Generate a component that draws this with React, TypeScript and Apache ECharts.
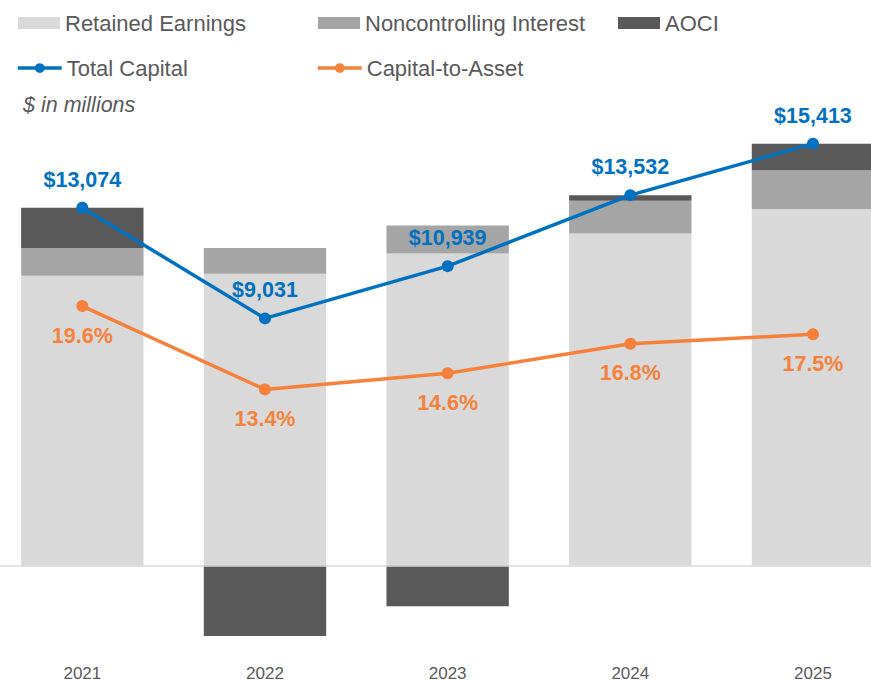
import React, { useEffect, useRef } from "react";
import * as echarts from "echarts";

const years = ["2021", "2022", "2023", "2024", "2025"];
const retainedEarnings = [10590, 10660, 11400, 12135, 13030];
const noncontrollingInterest = [1010, 940, 1020, 1190, 1410];
const aoci = [1474, -2569, -1481, 207, 973];
const totalCapital = [13074, 9031, 10939, 13532, 15413];
const capitalToAsset = [19.6, 13.4, 14.6, 16.8, 17.5];

const FONT = '"Liberation Sans", Arial, Helvetica, sans-serif';
const TEXT = "#595959";
const BLUE = "#0070C0";
const ORANGE = "#F5813A";
const OFF = 40; // inner canvas is shifted left by this many pixels

export default function App() {
  const ref = useRef<HTMLDivElement>(null);

  useEffect(() => {
    if (!ref.current) return;
    const chart = echarts.init(ref.current, undefined, { renderer: "svg" });

    const legendBase = {
      itemHeight: 12,
      padding: 0,
      selectedMode: false,
      textStyle: { fontSize: 22, color: TEXT, fontFamily: FONT },
    };

    chart.setOption({
      animation: false,
      textStyle: { fontFamily: FONT },
      title: {
        text: "$ in millions",
        left: 23 + OFF,
        top: 94,
        padding: 0,
        textStyle: {
          fontSize: 21.5,
          fontStyle: "italic",
          fontWeight: "normal",
          color: TEXT,
          fontFamily: FONT,
        },
      },
      legend: [
        { ...legendBase, data: [{ name: "Retained Earnings", icon: "rect" }], left: 18 + OFF, top: 12, itemWidth: 42 },
        { ...legendBase, data: [{ name: "Noncontrolling Interest", icon: "rect" }], left: 318 + OFF, top: 12, itemWidth: 42 },
        { ...legendBase, data: [{ name: "AOCI", icon: "rect" }], left: 618 + OFF, top: 12, itemWidth: 42 },
        { ...legendBase, data: ["Total Capital"], left: 16 + OFF, top: 57, itemWidth: 44, lineStyle: { width: 3.5 } },
        { ...legendBase, data: ["Capital-to-Asset"], left: 316 + OFF, top: 57, itemWidth: 44, lineStyle: { width: 3.5 } },
      ],
      grid: { left: OFF - 9, width: 913.3, top: 127.6, bottom: 36.9, containLabel: false },
      xAxis: {
        type: "category",
        data: years,
        axisLine: { show: false, onZero: false },
        axisTick: { show: false },
        axisLabel: { color: TEXT, fontSize: 17, margin: 20, fontFamily: FONT },
      },
      yAxis: [
        { type: "value", min: -2900, max: 16000, show: false, splitLine: { show: false } },
        { type: "value", min: -5.606, max: 32.87, show: false, splitLine: { show: false } },
      ],
      series: [
        {
          name: "Retained Earnings",
          type: "bar",
          stack: "cap",
          barWidth: "67%",
          data: retainedEarnings,
          itemStyle: { color: "#D9D9D9" },
          markLine: {
            silent: true,
            symbol: ["none", "none"],
            label: { show: false },
            lineStyle: { color: "#D9D9D9", width: 1.5, type: "solid" },
            data: [{ yAxis: 0 }],
          },
        },
        {
          name: "Noncontrolling Interest",
          type: "bar",
          stack: "cap",
          data: noncontrollingInterest,
          itemStyle: { color: "#A5A5A5" },
        },
        {
          name: "AOCI",
          type: "bar",
          stack: "cap",
          data: aoci,
          itemStyle: { color: "#595959" },
        },
        {
          name: "Total Capital",
          type: "line",
          yAxisIndex: 0,
          data: totalCapital,
          symbol: "circle",
          symbolSize: 12,
          z: 5,
          lineStyle: { color: BLUE, width: 3.5 },
          itemStyle: { color: BLUE },
          label: {
            show: true,
            position: "top",
            distance: 11,
            color: BLUE,
            fontWeight: "bold",
            fontSize: 21.5,
            fontFamily: FONT,
            formatter: (p: any) => "$" + Number(p.value).toLocaleString("en-US"),
          },
        },
        {
          name: "Capital-to-Asset",
          type: "line",
          yAxisIndex: 1,
          data: capitalToAsset,
          symbol: "circle",
          symbolSize: 12,
          z: 5,
          lineStyle: { color: ORANGE, width: 3.5 },
          itemStyle: { color: ORANGE },
          label: {
            show: true,
            position: "bottom",
            distance: 12.5,
            color: ORANGE,
            fontWeight: "bold",
            fontSize: 21.5,
            fontFamily: FONT,
            formatter: (p: any) => Number(p.value).toFixed(1) + "%",
          },
        },
      ],
    });

    return () => chart.dispose();
  }, []);

  return (
    <div
      style={{
        position: "fixed",
        left: 0,
        top: 0,
        width: 871,
        height: 682,
        overflow: "hidden",
        background: "#fff",
      }}
    >
      <div
        ref={ref}
        style={{ position: "absolute", left: -OFF, top: 0, width: 871 + OFF + 40, height: 682 }}
      />
    </div>
  );
}
